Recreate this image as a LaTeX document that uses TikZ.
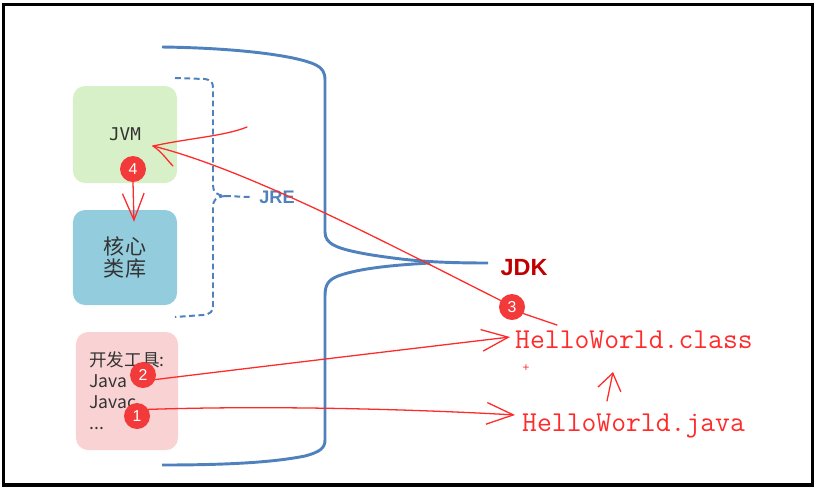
\documentclass[tikz,border=0pt]{standalone}
\usepackage{fontspec}
\usetikzlibrary{arrows.meta, calc, positioning}
\setmainfont{Liberation Sans}
\newfontfamily\cjkfont{Noto Sans CJK SC}
\newfontfamily\codefont{DejaVu Sans Mono}
\definecolor{jvmgreen}{HTML}{D8F0C8}
\definecolor{libblue}{HTML}{93CDDD}
\definecolor{toolpink}{HTML}{F9D3D4}
\definecolor{brblue}{HTML}{4F81BD}
\definecolor{jdkred}{HTML}{C00000}
\definecolor{inkred}{HTML}{FF2A2A}
\definecolor{badgered}{HTML}{F23A3A}
\pgfdeclarelayer{front}
\pgfsetlayers{main,front}
\tikzset{
  rbox/.style     = {rounded corners=0.36cm, minimum width=3.12cm, inner sep=0pt},
  inkline/.style  = {draw=inkred, line width=1.1pt, line cap=round, line join=round},
  inkarrow/.style = {inkline, -{Straight Barb[length=8mm, width=6.5mm]}},
  badge/.style    = {circle, fill=badgered, minimum size=0.78cm, inner sep=0pt,
                     text=white, font=\fontsize{13.5}{13.5}\selectfont},
  hellotxt/.style = {text=inkred, font=\ttfamily\fontsize{24.6}{24.6}\selectfont,
                     inner sep=0pt, anchor=base west},
  jdkline/.style  = {draw=brblue, line width=2.5pt},
  jreline/.style  = {draw=brblue, line width=1.7pt, dash pattern=on 5pt off 3pt},
}

\begin{document}
\begin{tikzpicture}[x=0.03cm, y=-0.03cm]
  \useasboundingbox (0,0) rectangle (820,490);
  \draw[line width=2.6pt] (3.5,4.5) rectangle (812.5,485);
  \node[rbox, fill=jvmgreen, minimum height=2.91cm, text=black!80,
        font=\codefont\fontsize{15}{15}\selectfont] (jvm) at (125,134.5) {JVM};
  \node[rbox, fill=libblue, minimum height=2.85cm, align=center, text=black!80,
        font=\cjkfont\fontsize{18}{19}\selectfont] (core) at (125,257.5) {核心\\类库};
  \node[rbox, fill=toolpink, minimum width=3.06cm, minimum height=3.54cm, align=left,
        text=black!80, font=\cjkfont\fontsize{15}{18}\selectfont] (tools) at (127,391)
        {开发工具:\\Java\\Javac\\...};
  \draw[jdkline] (162,47) .. controls (240,48) and (298,56) .. (316,65)
    .. controls (322,68) and (325,72) .. (325,80) -- (325,232)
    .. controls (325,244) and (336,249) .. (372,255)
    .. controls (405,260) and (430,263) .. (488,263);
  \draw[jdkline] (430,263) .. controls (395,265) and (360,268) .. (338,276)
    .. controls (328,280) and (325,285) .. (325,296) -- (325,440)
    .. controls (325,448) and (320,452) .. (305,456)
    .. controls (270,463) and (220,465) .. (162,465);
  \coordinate (jrepinch) at (225,196);
  \draw[jreline] (175,78) -- (205,79) .. controls (211,80) and (213,82) .. (213,88)
    -- (213,185) .. controls (213,192) and (216,195) .. (jrepinch);
  \draw[jreline] (jrepinch) .. controls (216,197) and (213,200) .. (213,207)
    -- (213,306) .. controls (213,312) and (210,314) .. (203,315) -- (175,317);
  \node[font=\bfseries\fontsize{15.5}{15.5}\selectfont, text=brblue, inner sep=0pt] (jre) at (277,197) {JRE};
  \draw[jreline] (jrepinch) -- ($(jre.west)+(-9,0)$);
  \node[font=\bfseries\fontsize{20}{20}\selectfont, text=jdkred, inner sep=0pt] (jdk) at (524,268) {JDK};
  \node[hellotxt] (hclass) at (515,348) {HelloWorld.class};
  \node[hellotxt] (hjava) at (522,431) {HelloWorld.java};
  \node[text=inkred, font=\fontsize{10}{10}\selectfont, inner sep=0pt] (plus) at (526,368) {+};
  \begin{pgfonlayer}{front}
    \node[badge] (b1) at (137,416) {1};
    \node[badge] (b2) at (143,375) {2};
    \node[badge] (b3) at (512,307) {3};
    \node[badge] (b4) at (133,169) {4};
  \end{pgfonlayer}
  \coordinate (jvmtip) at ($(jvm.center)+(28,11.5)$);
  \draw[inkarrow] (b1.30) .. controls (280,405) and (430,410) .. ($(hjava.base west)+(-7,-16)$);
  \draw[inkarrow] (b2.-20) .. controls (250,368) and (400,350) .. ($(hclass.base west)+(-5,-11)$);
  \draw[inkline] ($(hclass.base west)+(42,-23)$) -- (b3.-30);
  \draw[inkline] (b3.150) .. controls (400,250) and (250,170) .. (jvmtip);
  \draw[inkline] (jvmtip) .. controls (190,138) and (225,136) .. (247,127);
  \draw[inkline] (jvmtip) .. controls (162,152) and (167,160) .. (173,166);
  \draw[inkarrow] (b4.south) -- ($(core.north)+(9,12)$);
  \draw[inkline, -{Straight Barb[length=5mm, width=7mm]}]
    ($(hjava.base west)+(85,-30)$) -- ($(hclass.base west)+(98,24)$);
\end{tikzpicture}
\end{document}
